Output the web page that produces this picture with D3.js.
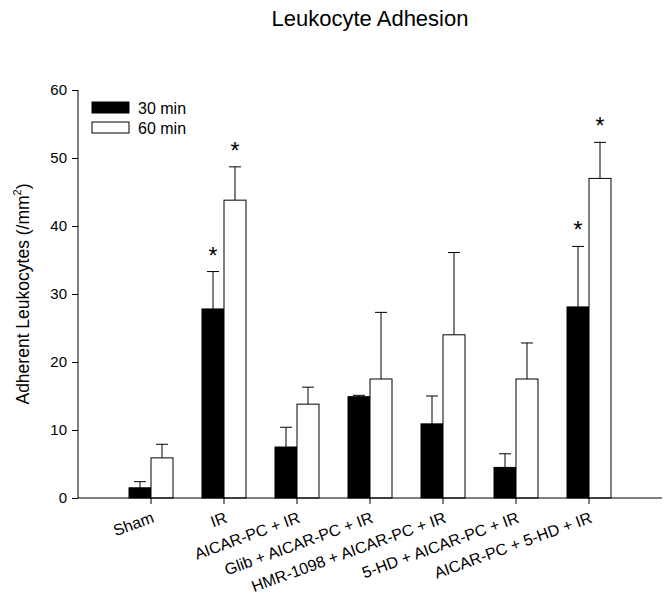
<!DOCTYPE html>
<html>
<head>
<meta charset="utf-8">
<script src="https://cdn.jsdelivr.net/npm/d3@7"></script>
<style>
  body { margin: 0; background: #fff; }
  text { font-family: Arial, "Liberation Sans", sans-serif; }
</style>
</head>
<body>
<div id="chart"></div>
<script>
var categories = ["Sham", "IR", "AICAR-PC + IR", "Glib + AICAR-PC + IR",
    "HMR-1098 + AICAR-PC + IR", "5-HD + AICAR-PC + IR", "AICAR-PC + 5-HD + IR"];
var series = ["30 min", "60 min"];
var mean30 = [1.5, 27.8, 7.5, 14.9, 10.9, 4.5, 28.1];
var err30 = [0.9, 5.5, 2.9, 0.2, 4.1, 2.0, 8.9];
var mean60 = [5.9, 43.8, 13.8, 17.5, 24.0, 17.5, 47.0];
var err60 = [2.0, 4.9, 2.5, 9.8, 12.1, 5.3, 5.3];
var star30 = [false, true, false, false, false, false, true];
var star60 = [false, true, false, false, false, false, true];
var yTicks = [0, 10, 20, 30, 40, 50, 60];

var W = 663, H = 594;
var margin = {top: 90, right: 1, bottom: 96, left: 78};
var width = W - margin.left - margin.right;
var height = H - margin.top - margin.bottom;

var svg = d3.select("#chart").append("svg")
    .attr("width", W)
    .attr("height", H);

var g = svg.append("g")
    .attr("transform", "translate(" + margin.left + "," + margin.top + ")");

// 8 equal slots, categories centred on the boundaries 1..7
var step = 73;
var xCenter = d3.scaleLinear().domain([0, 8]).range([0, step * 8]);
var barW = 22;
var yScale = d3.scaleLinear().domain([0, 60]).range([height, 0]);

var data = categories.map(function(c, i) {
    return [
        {cat: c, i: i, s: 0, v: mean30[i], e: err30[i], star: star30[i]},
        {cat: c, i: i, s: 1, v: mean60[i], e: err60[i], star: star60[i]}
    ];
});
var flat = [].concat.apply([], data);

function barX(d) { return xCenter(d.i + 1) + (d.s === 0 ? -barW : 0); }

// error bars (upper only)
var eb = g.selectAll(".err").data(flat).enter().append("g").attr("class", "err");
eb.append("line")
    .attr("x1", function(d) { return barX(d) + barW / 2; })
    .attr("x2", function(d) { return barX(d) + barW / 2; })
    .attr("y1", function(d) { return yScale(d.v); })
    .attr("y2", function(d) { return yScale(d.v + d.e); })
    .attr("stroke", "#000").attr("stroke-width", 1);
eb.append("line")
    .attr("x1", function(d) { return barX(d) + barW / 2 - 6; })
    .attr("x2", function(d) { return barX(d) + barW / 2 + 6; })
    .attr("y1", function(d) { return yScale(d.v + d.e); })
    .attr("y2", function(d) { return yScale(d.v + d.e); })
    .attr("stroke", "#000").attr("stroke-width", 1);

// bars
g.selectAll(".bar").data(flat).enter().append("rect")
    .attr("class", "bar")
    .attr("x", function(d) { return barX(d); })
    .attr("y", function(d) { return yScale(d.v); })
    .attr("width", barW)
    .attr("height", function(d) { return height - yScale(d.v); })
    .attr("fill", function(d) { return d.s === 0 ? "#000" : "#fff"; })
    .attr("stroke", "#000")
    .attr("stroke-width", 1);

// asterisks
g.selectAll(".star").data(flat.filter(function(d) { return d.star; })).enter().append("text")
    .attr("class", "star")
    .attr("x", function(d) { return barX(d) + barW / 2; })
    .attr("y", function(d) { return yScale(d.v + d.e) - 8; })
    .attr("text-anchor", "middle")
    .attr("font-size", "23px")
    .text("*");

// y axis
var yAxis = d3.axisLeft(yScale).tickValues(yTicks).tickSize(6).tickPadding(5);
var gY = g.append("g").call(yAxis);
gY.select(".domain").attr("d", "M0," + height + "V0");
gY.selectAll("text").attr("font-size", "15px").attr("font-family", "Arial, 'Liberation Sans', sans-serif").attr("fill", "#000");

// x axis
var gX = g.append("g").attr("transform", "translate(0," + height + ")");
gX.append("line")
    .attr("x1", 0).attr("x2", width)
    .attr("stroke", "#000");
var xt = gX.selectAll(".xt").data(categories).enter().append("g")
    .attr("class", "xt")
    .attr("transform", function(d, i) { return "translate(" + xCenter(i + 1) + ",0)"; });
xt.append("line").attr("y2", 6).attr("stroke", "#000");
xt.append("text")
    .attr("text-anchor", "end")
    .attr("font-size", "16px")
    .attr("transform", "translate(4,24) rotate(-20)")
    .text(function(d) { return d; });

// y label
var yl = svg.append("text")
    .attr("transform", "translate(29," + (margin.top + height / 2) + ") rotate(-90)")
    .attr("text-anchor", "middle")
    .attr("font-size", "17.5px");
yl.append("tspan").text("Adherent Leukocytes (/mm");
yl.append("tspan").attr("font-size", "11px").attr("dy", "-0.7em").text("2");
yl.append("tspan").attr("dy", "0.45em").text(")");

// title
svg.append("text")
    .attr("x", 370)
    .attr("y", 26)
    .attr("text-anchor", "middle")
    .attr("font-size", "22px")
    .text("Leukocyte Adhesion");

// legend
var leg = svg.selectAll(".leg").data(series).enter().append("g")
    .attr("class", "leg")
    .attr("transform", function(d, i) { return "translate(92," + (102 + i * 20) + ")"; });
leg.append("rect")
    .attr("width", 37).attr("height", 11)
    .attr("fill", function(d, i) { return i === 0 ? "#000" : "#fff"; })
    .attr("stroke", "#000");
leg.append("text")
    .attr("x", 46).attr("y", 11.5)
    .attr("font-size", "16px")
    .text(function(d) { return d; });
</script>
</body>
</html>
